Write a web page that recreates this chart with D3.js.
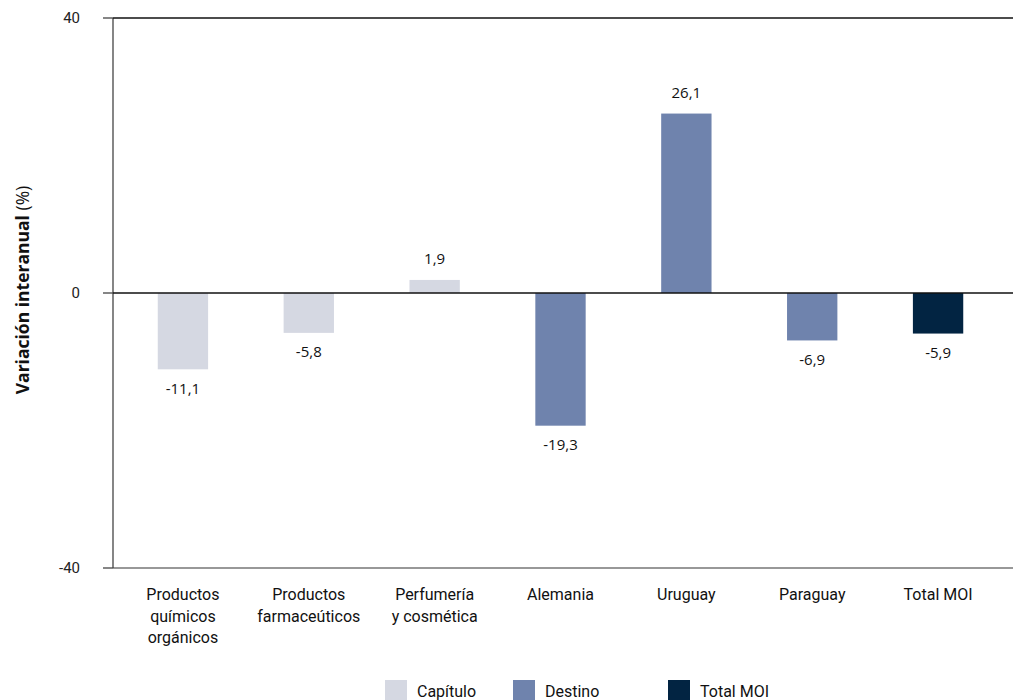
<!DOCTYPE html>
<html><head><meta charset="utf-8">
<script src="https://cdn.jsdelivr.net/npm/d3@7"></script>
<style>body{margin:0;background:#fff}svg{display:block}</style>
</head><body>
<svg id="c" width="1013" height="700"></svg>
<script>
const categories = [["Productos","químicos","orgánicos"],["Productos","farmaceúticos"],["Perfumería","y cosmética"],["Alemania"],["Uruguay"],["Paraguay"],["Total MOI"]];
const values = [-11.1, -5.8, 1.9, -19.3, 26.1, -6.9, -5.9];
const groups = ["Capítulo","Capítulo","Capítulo","Destino","Destino","Destino","Total MOI"];
const legendItems = ["Capítulo","Destino","Total MOI"];
const yTicks = [-40, 0, 40];
const colors = {"Capítulo":"#d5d8e2","Destino":"#6f83ad","Total MOI":"#022442"};

const svg = d3.select("#c");
const x = d3.scaleBand().domain(d3.range(values.length)).range([120, 1001]).paddingInner(0.6).paddingOuter(0.3);
const y = d3.scaleLinear().domain([-40, 40]).range([568, 18]);
const fmt = v => String(v).replace(".", ",");

// bars
svg.selectAll("rect.bar").data(values).join("rect")
  .attr("x", (d,i)=>x(i)).attr("width", x.bandwidth())
  .attr("y", d=>y(Math.max(0,d))).attr("height", d=>Math.abs(y(d)-y(0)))
  .attr("fill", (d,i)=>colors[groups[i]]);

// axis lines
svg.append("line").attr("x1",113).attr("x2",113).attr("y1",y(40)).attr("y2",y(-40)).attr("stroke","#444").attr("stroke-width",1.3);
yTicks.forEach(t=>{
  svg.append("line").attr("x1",103).attr("x2",113).attr("y1",y(t)).attr("y2",y(t)).attr("stroke","#444").attr("stroke-width",1.3);
  svg.append("text").attr("x",80).attr("y",y(t)).attr("dy","0.35em").attr("text-anchor","end")
    .attr("font-family","Roboto, sans-serif").attr("font-size",15).attr("fill","#222").text(t);
});
svg.append("line").attr("x1",113).attr("x2",1013).attr("y1",y(40)).attr("y2",y(40)).attr("stroke","#111").attr("stroke-width",1.6);
svg.append("line").attr("x1",113).attr("x2",1013).attr("y1",y(-40)).attr("y2",y(-40)).attr("stroke","#333").attr("stroke-width",1.2);
svg.append("line").attr("x1",113).attr("x2",1013).attr("y1",y(0)).attr("y2",y(0)).attr("stroke","#111").attr("stroke-width",1.6);

// value labels
svg.selectAll("text.val").data(values).join("text")
  .attr("x",(d,i)=>x(i)+x.bandwidth()/2)
  .attr("y", d=> d>=0 ? y(d)-21 : y(d)+19)
  .attr("dy","0.35em").attr("text-anchor","middle")
  .attr("font-family","'Open Sans', sans-serif").attr("font-size",15).attr("fill","#111")
  .text(fmt);

// category labels
categories.forEach((lines,i)=>{
  const t = svg.append("text").attr("text-anchor","middle")
    .attr("font-family","Roboto, sans-serif").attr("font-size",16).attr("fill","#111");
  lines.forEach((l,j)=>t.append("tspan").attr("x",x(i)+x.bandwidth()/2).attr("y",600+j*21.5).text(l));
});

// y title
const yt = svg.append("text").attr("transform","translate(29,290) rotate(-90)").attr("text-anchor","middle")
  .attr("font-family","'Open Sans', sans-serif").attr("font-size",17.5).attr("fill","#111");
yt.append("tspan").attr("font-weight","bold").text("Variación interanual ");
yt.append("tspan").text("(%)");

// legend
const lx = [385, 513, 668];
legendItems.forEach((k,i)=>{
  svg.append("rect").attr("x",lx[i]).attr("y",680).attr("width",22).attr("height",24).attr("fill",colors[k]);
  svg.append("text").attr("x",lx[i]+32).attr("y",697).attr("font-family","Roboto, sans-serif").attr("font-size",16).attr("fill","#111").text(k);
});
</script>
</body></html>
